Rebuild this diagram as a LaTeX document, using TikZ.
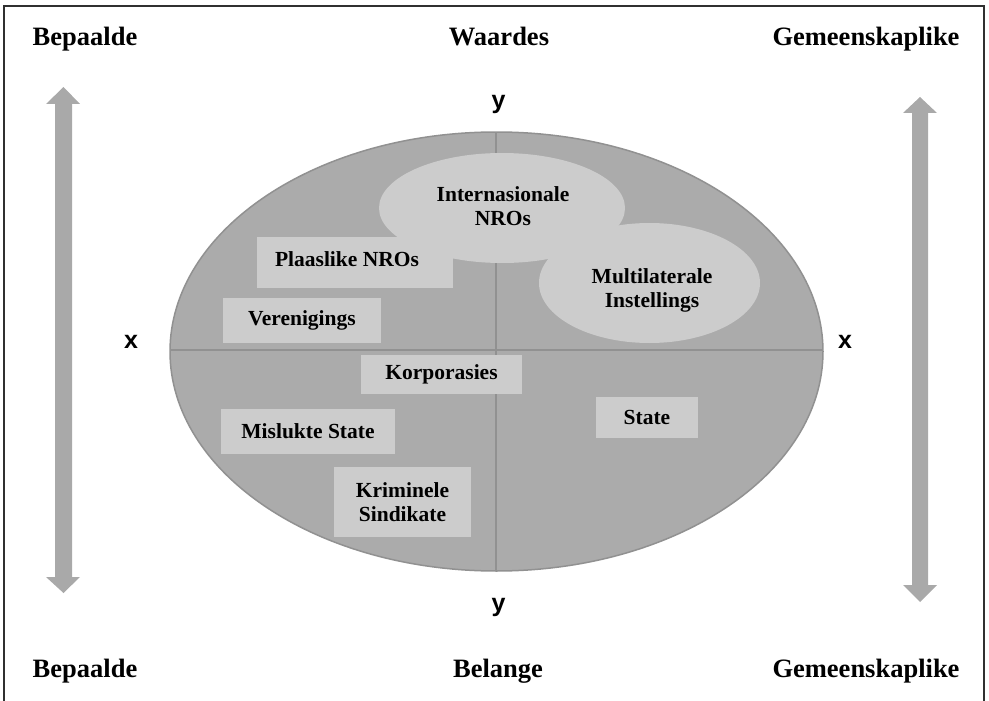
\documentclass[tikz,border=0pt]{standalone}
\usepackage{fontspec}
\usetikzlibrary{shapes.geometric}
\setmainfont{Liberation Serif}
\newfontfamily\sansf{Liberation Sans}
\definecolor{ellfill}{HTML}{ABABAB}
\definecolor{ellline}{HTML}{919191}
\definecolor{boxfill}{HTML}{CCCCCC}
\definecolor{arrowfill}{HTML}{A9A9A9}
\definecolor{framecol}{HTML}{303030}
\begin{document}
\begin{tikzpicture}[x=1pt,y=-1pt,
  corner/.style={anchor=base,font=\fontsize{26.5}{28}\selectfont\bfseries},
  axislbl/.style={anchor=base,font=\sansf\fontsize{25}{28}\selectfont\bfseries},
  itembox/.style={fill=boxfill,inner sep=0pt,align=center,font=\fontsize{21.5}{24}\selectfont\bfseries},
  itemell/.style={ellipse,fill=boxfill,inner sep=0pt},
  itemtxt/.style={align=center,font=\fontsize{21.5}{24}\selectfont\bfseries}]
\useasboundingbox (0,0) rectangle (989,701);
% frame (open at bottom)
\draw[framecol,line width=2.8pt] (4,701) -- (4,6) -- (984,6) -- (984,701);
% corner labels
\node[corner] (tl) at (85,46) {Bepaalde};
\node[corner] (tm) at (499,46) {Waardes};
\node[corner] (tr) at (866,46) {Gemeenskaplike};
\node[corner] (bl) at (85,677) {Bepaalde};
\node[corner] (bm) at (498,677) {Belange};
\node[corner] (br) at (866,677) {Gemeenskaplike};
% double arrows
\fill[arrowfill] (63.5,87) -- (80,104) -- (72,104) -- (72,577) -- (80,577) -- (63.5,593)
  -- (46,577) -- (55,577) -- (55,104) -- (46,104) -- cycle;
\fill[arrowfill] (920,97) -- (937,113) -- (928,113) -- (928,585) -- (937,585) -- (920,602)
  -- (903,585) -- (912,585) -- (912,113) -- (903,113) -- cycle;
% axis labels
\node[axislbl] (yt) at (498.5,109) {y};
\node[axislbl] (yb) at (498.5,611) {y};
\node[axislbl] (xl) at (131,348) {x};
\node[axislbl] (xr) at (845,348) {x};
% big ellipse
\fill[ellfill] (496.5,351.5) ellipse [x radius=326.5, y radius=219.5];
\begin{scope}
  \clip (496.5,351.5) ellipse [x radius=326.5, y radius=219.5];
  \draw[ellline,line width=1.6pt] (496,120) -- (496,580);
  \draw[ellline,line width=1.6pt] (160,350) -- (830,350);
\end{scope}
\draw[ellline,line width=1.5pt] (496.5,351.5) ellipse [x radius=326.5, y radius=219.5];
% items
\node[itembox,minimum width=196pt,minimum height=51pt] (plaas) at (355,262.5) {};
\node[itemell,minimum width=246pt,minimum height=110pt] (inte) at (502,208) {};
\node[itemell,minimum width=221pt,minimum height=120pt] (mult) at (649.5,283) {};
\node[itemtxt] (intet) at (503,206) {Internasionale\\NROs};
\node[itemtxt] (multt) at (652,290) {Multilaterale\\Instellings};
\node[itemtxt] (plaast) at (347,259) {Plaaslike NROs};
\node[itembox,minimum width=158pt,minimum height=45pt] (vere) at (302,320.5) {Verenigings};
\node[itembox,minimum width=161pt,minimum height=39pt] (korp) at (441.5,374.5) {Korporasies};
\node[itembox,minimum width=174pt,minimum height=45pt] (mislu) at (308,431.5) {Mislukte State};
\node[itembox,minimum width=102pt,minimum height=41pt] (state) at (647,417.5) {State};
\node[itembox,minimum width=137pt,minimum height=70pt] (krim) at (402.5,502) {Kriminele\\Sindikate};
\end{tikzpicture}
\end{document}
